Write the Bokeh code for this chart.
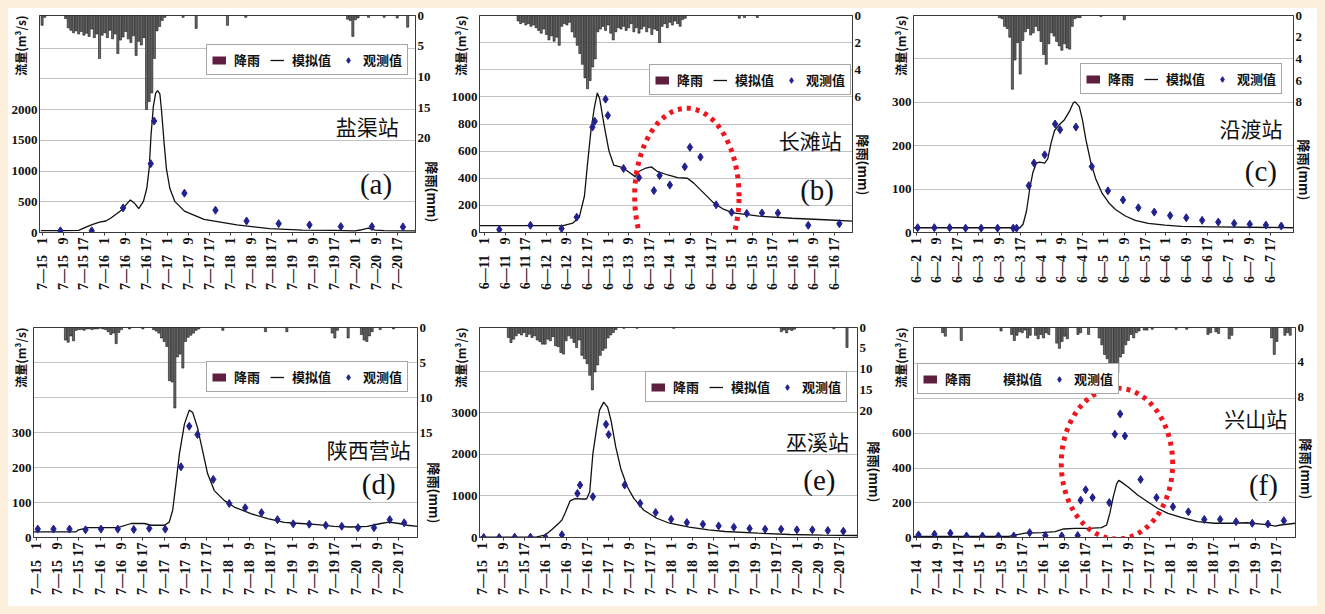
import math
from bokeh.plotting import figure
from bokeh.models import (Range1d, LinearAxis, FixedTicker, Label, Legend, LegendItem,
                          PolyAnnotation, CustomJSTickFormatter, Title)
from bokeh.layouts import row, column
from bokeh.embed import file_html
from bokeh.resources import INLINE

# ---------------- shared tick labels ----------------
tick_hours = [1, 9, 17, 25, 33, 41, 49, 57, 65, 73, 81, 89, 97, 105, 113, 121, 129, 137]
tick_clock = ["1", "9", "17"]
dates_a = ["7—15", "7—16", "7—17", "7—18", "7—19", "7—20"]
dates_b = ["6—11", "6—12", "6—13", "6—14", "6—15", "6—16"]
dates_c = ["6—2", "6—3", "6—4", "6—5", "6—6", "6—7"]
dates_d = ["7—15", "7—16", "7—17", "7—18", "7—19", "7—20"]
dates_e = ["7—15", "7—16", "7—17", "7—18", "7—19", "7—20"]
dates_f = ["7—14", "7—15", "7—16", "7—17", "7—18", "7—19"]

stations = ["盐渠站", "长滩站", "沿渡站", "陕西营站", "巫溪站", "兴山站"]
tags = ["(a)", "(b)", "(c)", "(d)", "(e)", "(f)"]
legend_labels = ["降雨", "模拟值", "观测值"]

# ---------------- (a) 盐渠站 ----------------
sim_a_h = [0.5, 8, 15, 18, 20.4, 23, 25.4, 27.5, 29.2, 31.7, 33.5, 34.8, 36.5, 38.0, 39.8, 41.1, 42.0,
           42.7, 43.6, 44.5, 45.2, 46.1, 46.7, 47.7, 48.6, 49.9, 51.8, 55.5, 63.0, 75.6, 88.1, 100.6,
           113.2, 120.7, 123.5, 126.0, 128.5, 132, 144]
sim_a_q = [30, 30, 35, 90, 133, 170, 187, 240, 293, 373, 470, 530, 470, 390, 507, 720, 1040,
           1573, 2053, 2267, 2309, 2256, 2000, 1467, 1040, 720, 507, 347, 213, 123, 64, 40,
           35, 27, 45, 70, 40, 30, 27]
obs_a_h = [8, 20, 32, 42.6, 43.9, 55.5, 67.4, 79.3, 91.6, 103.4, 115.4, 127.3, 139.2]
obs_a_q = [27, 27, 400, 1120, 1813, 640, 363, 187, 144, 123, 96, 96, 91]
rain_a_h = [1, 2] + list(range(10, 49)) + [55, 60, 72, 79, 118, 119, 120, 121, 122, 126, 132, 137, 141]
rain_a_mm = [1.6, 0.3,
             0.5, 2.0, 2.4, 2.8, 2.5, 3.0, 2.6, 3.2, 2.9, 3.4, 2.2, 3.6, 3.0, 7.0, 3.2, 2.8, 3.6, 2.4,
             3.8, 3.0, 6.2, 4.0, 3.5, 2.6, 3.8, 4.4, 3.3, 6.5, 4.2, 4.8, 3.6, 15.3, 14.0, 12.6, 7.0,
             2.5, 1.8, 0.8, 0.3,
             0.3, 2.1, 1.6, 0.3, 0.6, 0.8, 3.4, 0.7, 0.4, 0.3, 0.3, 0.4, 1.9]

# ---------------- (b) 长滩站 ----------------
sim_b_h = [-1, 31.5, 35.3, 37.8, 39.8, 41, 42.3, 43.6, 44.8, 45.7, 47.4, 49.3, 51.2, 54.4, 56.9, 59.5,
           60.7, 63.3, 65.8, 68.3, 72.2, 76, 79.8, 82.3, 86.1, 89.9, 93.8, 97.6, 107.7, 120.4, 133.1, 144]
sim_b_q = [50, 50, 70, 113, 269, 508, 748, 916, 1029, 988, 796, 604, 496, 480, 448, 412,
           448, 472, 484, 448, 424, 405, 400, 364, 292, 220, 172, 144, 120, 105, 94, 84]
obs_b_h = [6.7, 18.8, 30.9, 36.8, 42.9, 43.8, 48, 48.9, 55, 61, 66.8, 69, 73, 78.8, 80.8, 84.9, 91,
           97, 102.9, 108.8, 115, 126.8, 138.9]
obs_b_q = [22, 53, 29, 113, 777, 820, 983, 863, 472, 405, 309, 420, 350, 484, 628, 556, 204,
           149, 141, 144, 144, 53, 65]
rain_b_h = list(range(14, 80)) + [100, 102, 107]
rain_b_mm = [0.4, 0.6, 0.5, 0.7, 0.6, 0.8, 0.7, 0.9, 1.1, 1.3, 1.0, 1.4, 1.8, 1.5, 1.9, 1.6, 2.2,
             0.8, 0.6, 0.7, 0.5, 1.2, 1.6, 2.2, 2.8, 3.6, 4.6, 5.4, 4.8, 3.8, 3.2, 1.2, 1.0, 0.8,
             1.1, 0.7, 1.3, 1.8, 1.2, 0.9, 1.0, 0.8, 1.1, 0.9, 0.6, 1.2, 0.9, 1.3, 1.0, 0.8, 1.2,
             0.9, 1.4, 1.0, 1.1, 2.0, 0.8, 0.6, 0.9, 0.5, 0.7, 0.4, 0.6, 0.8, 0.3, 0.2,
             0.2, 0.15, 0.15]

# ---------------- (c) 沿渡站 ----------------
sim_c_h = [0, 40.9, 42.1, 43.4, 44.7, 45.9, 47.2, 48.5, 50.4, 51.6, 52.9, 54.2, 56.1, 58, 59.9,
           61.4, 62.1, 63.7, 64.9, 66.2, 68.1, 70, 72.5, 75.1, 77.6, 81.4, 85.2, 90.2, 96.6,
           102.9, 115.6, 146]
sim_c_q = [11, 11, 19, 49, 102, 139, 160, 162, 160, 170, 207, 235, 249, 260, 279,
           299, 301, 290, 260, 215, 162, 124, 90, 68, 53, 38, 28, 21, 17, 14, 13, 11]
obs_c_h = [1.6, 8, 13.9, 20, 26, 32.3, 38.3, 39.6, 44.3, 46.3, 50.4, 54.4, 56.3, 62.4, 68.5, 74.7,
           80.5, 86.4, 92.5, 98.6, 104.8, 110.9, 117.1, 123.2, 129.2, 135.4, 141.3]
obs_c_q = [11, 11, 11, 10, 10, 10, 10, 10, 108, 160, 179, 250, 237, 243, 152, 96,
           75, 57, 47, 39, 34, 28, 24, 21, 19, 17, 15]
rain_c_h = list(range(33, 65)) + [72, 81]
rain_c_mm = [0.2, 0.3, 1.0, 1.2, 2.0, 6.8, 4.1, 2.5, 5.4, 2.3, 1.5, 1.2, 1.8, 1.6, 1.0, 1.4,
             2.4, 3.6, 4.5, 2.6, 1.6, 1.9, 2.4, 2.8, 3.2, 2.6, 3.0, 3.1, 1.0, 0.3, 0.2, 0.2,
             0.1, 0.4]

# ---------------- (d) 陕西营站 ----------------
sim_d_h = [0, 16, 16.6, 20.4, 31.6, 36.6, 41.6, 44.1, 49.1, 50.9, 52.2, 53.4, 54.7, 56.6, 58.4,
           59.7, 61.5, 63.4, 65.3, 67.8, 71.5, 75.3, 81.5, 87.8, 94, 100.3, 106.5, 112.7, 119,
           125.2, 130.2, 133.3, 137.1, 140.2, 144]
sim_d_q = [16, 16, 21, 28, 28, 40, 40, 35, 35, 44, 78, 153, 238, 324, 364,
           357, 314, 248, 182, 134, 106, 87, 68, 54, 43, 40, 37, 32, 30,
           32, 40, 44, 40, 35, 32]
obs_d_h = [1.6, 7.5, 13.5, 19.5, 25.3, 31.6, 37.6, 43.4, 49.4, 55.3, 58.4, 61.5, 67.4, 73.4, 79.4,
           85.5, 91.5, 97.4, 103.4, 109.6, 115.6, 121.7, 127.7, 133.6, 139]
obs_d_q = [24, 24, 24, 22, 24, 24, 23, 26, 24, 202, 318, 294, 166, 97, 85,
           71, 51, 39, 38, 35, 32, 28, 28, 51, 42]
rain_d_h = list(range(12, 34)) + [36, 41] + list(range(45, 63)) + \
    [71, 87, 95, 112, 113, 114, 118, 123, 124, 125, 126, 127, 130, 135]
rain_d_mm = [1.8, 2.1, 1.2, 1.9, 0.4, 0.3, 0.3, 0.4, 0.2, 0.2, 0.3, 0.2, 0.2, 0.1, 0.2, 0.3, 0.6,
             1.0, 0.8, 2.3, 0.7, 0.3,
             0.2, 0.2,
             0.3, 0.5, 0.8, 1.5, 2.0, 2.7, 7.6, 7.8, 11.5, 4.2, 3.8, 5.8, 2.0, 1.4, 1.1, 0.8, 0.4, 0.2,
             0.4, 0.6, 0.6, 0.8, 1.5, 0.4, 1.5, 1.0, 1.8, 2.0, 1.2, 0.6, 0.3, 0.2]

# ---------------- (e) 巫溪站 ----------------
sim_e_h = [0, 21.5, 25.2, 27.7, 30.2, 31.4, 32.7, 34.5, 36.4, 38.9, 40.8, 42, 43.2, 44.5, 45.7,
           47.3, 48.8, 50.1, 51.9, 53.8, 56.3, 58.8, 62.5, 67.5, 72.4, 79.9, 87.3, 93.5, 106,
           118.4, 130.8, 144]
sim_e_q = [10, 10, 64, 200, 343, 420, 600, 880, 935, 926, 926, 1101, 2019, 2578, 3057,
           3256, 3136, 2817, 2179, 1660, 1221, 942, 662, 463, 343, 247, 184, 144, 104,
           72, 56, 48]
obs_e_h = [1.6, 7.5, 13.4, 19.4, 25.2, 31.4, 37.3, 38.3, 43.2, 48.2, 49.2, 55.3, 61.2, 67.1, 73.0,
           79.0, 85.1, 91.1, 96.9, 102.9, 108.8, 114.9, 120.9, 126.8, 132.7, 138.6]
obs_e_q = [0, 0, 8, 8, 0, 64, 1061, 1261, 982, 2721, 2474, 1261, 822, 599, 439,
           359, 319, 279, 247, 215, 200, 200, 184, 184, 168, 152]
rain_e_h = list(range(11, 53)) + [55, 60, 74, 115, 116, 117, 118, 119, 120, 135, 140]
rain_e_mm = [2.4, 3.6, 2.8, 2.0, 1.4, 1.8, 1.2, 2.2, 1.6, 2.4, 2.0, 3.0, 3.4, 4.0, 4.0, 2.8, 3.2,
             2.2, 4.4, 4.6, 6.0, 6.4, 3.2, 2.0, 2.6, 3.6, 4.8, 3.0, 6.7, 7.5, 8.7, 11.5, 15.0,
             10.7, 9.0, 6.7, 5.5, 5.0, 2.5, 1.8, 1.2, 0.5,
             0.2, 0.2, 0.2, 1.0, 0.6, 1.3, 0.5, 0.7, 0.4, 0.3, 4.8]

# ---------------- (f) 兴山站 ----------------
sim_f_h = [0, 36, 38.5, 42.2, 48.4, 53.4, 56.6, 60.9, 65.9, 70.9, 72.8, 74, 75.3, 76.6, 77.4, 78.4,
           80.9, 84.6, 88.4, 92.1, 95.9, 100.9, 107.1, 113.4, 119.6, 125.8, 132.1, 136.5, 138.3, 144]
sim_f_q = [6, 6, 15, 25, 28, 34, 49, 53, 53, 57, 72, 139, 234, 310, 329, 319,
           291, 243, 205, 167, 139, 116, 91, 82, 82, 85, 76, 66, 72, 82]
obs_f_h = [1.9, 7.9, 13.9, 20, 26, 32, 37.8, 43.8, 49.7, 55.9, 61.9, 63, 64.9, 67.5, 73.8, 75.9,
           77.9, 79.7, 85.6, 91.6, 97.8, 103.6, 109.6, 115.6, 121.6, 127.7, 133.6, 139.6]
obs_f_q = [15, 19, 25, 9, 9, 9, 9, 28, 11, 9, 11, 215, 275, 230, 201, 595,
           712, 585, 334, 230, 177, 148, 104, 104, 91, 82, 78, 97]
rain_f_h = [11, 12, 18, 33, 37, 38, 39, 40, 41, 42, 43, 44, 46, 47, 48, 49, 50, 51, 54, 55, 56, 57,
            58, 62, 63, 66, 70, 71, 72, 73, 74, 75, 76, 77, 78, 79, 80, 81, 82, 83, 84, 85, 87, 88,
            90, 99, 103, 111, 112, 114, 115, 119, 120, 135, 136, 137, 140, 141, 142]
rain_f_mm = [0.6, 1.0, 1.5, 0.4, 0.8, 1.5, 0.9, 0.5, 0.6, 0.3, 1.2, 0.9, 0.9, 1.3, 0.8, 1.2, 0.6,
             0.8, 1.8, 2.4, 1.6, 1.0, 1.3, 0.8, 0.6, 0.8, 1.2, 2.0, 3.1, 3.6, 4.5, 4.2, 6.2, 5.2,
             3.4, 3.0, 2.0, 1.5, 0.8, 1.2, 0.6, 0.4, 0.3, 0.3, 0.2, 0.2, 0.2, 0.8, 0.6, 0.5, 0.7,
             1.3, 0.9, 1.2, 3.1, 1.6, 0.9, 0.6, 0.9]

# ---------------- styling ----------------
TICK_FONT = "Liberation Serif"
CJK = "Noto Sans CJK SC"
BAR_FILL = "#6a6a6a"
BAR_LINE = "#111111"
LEG_BAR = "#5e1f41"
OBS_COL = "#22228c"
RED = "#f0161e"


def make_labels(dates):
    out = []
    for i, _ in enumerate(tick_hours):
        hr = tick_clock[i % 3]
        gap = "\u00a0\u00a0\u00a0" if len(hr) == 1 else "\u00a0"
        out.append(dates[i // 3] + gap + hr)
    return out


def style_axis(ax, tick_out=0):
    ax.axis_line_color = "#3a3a3a"
    ax.major_tick_line_color = "#3a3a3a"
    ax.minor_tick_line_color = None
    ax.major_tick_in = 0
    ax.major_tick_out = tick_out
    ax.major_label_text_font = TICK_FONT
    ax.major_label_text_font_style = "bold"
    ax.major_label_text_font_size = "13px"
    ax.major_label_text_color = "#111111"
    ax.major_label_standoff = 2


def panel(cfg):
    W, H, L, R, T, B = cfg["geom"]
    x0, x1 = cfg["xr"]
    ymax = cfg["ymax"]
    p = figure(width=W, height=H, x_range=Range1d(x0, x1), y_range=Range1d(0, ymax),
               output_backend="svg", toolbar_location=None,
               min_border_left=L, min_border_right=R, min_border_top=T, min_border_bottom=B,
               background_fill_color="white", border_fill_color="white",
               outline_line_color="#3a3a3a", outline_line_width=1)
    p.extra_y_ranges = {"rain": Range1d(ymax / cfg["k"], 0)}
    p.xgrid.visible = False
    p.ygrid.ticker = FixedTicker(ticks=cfg["grid"])
    p.ygrid.grid_line_color = "#c2c2c2"
    p.ygrid.grid_line_width = 1

    # rainfall bars hanging from the top (inverted right axis)
    p.vbar(x=cfg["rain_h"], top=0, bottom=cfg["rain_mm"], width=0.8, y_range_name="rain",
           fill_color=BAR_FILL, line_color=BAR_LINE, line_width=0.6)
    sim = p.line(cfg["sim_h"], cfg["sim_q"], line_color="#111111", line_width=1.3)
    obs = p.scatter(cfg["obs_h"], cfg["obs_q"], marker="diamond", size=8,
                    fill_color=OBS_COL, line_color=OBS_COL)

    # legend proxies
    bar_proxy = p.line([x0 - 50, x0 - 40], [-100, -100], line_color=LEG_BAR, line_width=8)
    if cfg.get("line_glyph", True):
        line_proxy = sim
    else:
        line_proxy = p.line([x0 - 50, x0 - 40], [-100, -100], line_alpha=0)
    leg = Legend(items=[LegendItem(label=legend_labels[0], renderers=[bar_proxy]),
                        LegendItem(label=legend_labels[1], renderers=[line_proxy]),
                        LegendItem(label=legend_labels[2], renderers=[obs])],
                 location=cfg["leg"], orientation="horizontal",
                 label_text_font=CJK, label_text_font_style="bold", label_text_font_size="13px",
                 label_text_color="#111111",
                 glyph_width=14, glyph_height=16, label_standoff=8, spacing=10,
                 padding=5, margin=0, border_line_color="#4d4d4d", border_line_width=1.5,
                 background_fill_color="white", background_fill_alpha=1)
    p.add_layout(leg)

    # axes
    yl = p.yaxis[0]
    yl.ticker = FixedTicker(ticks=cfg["lticks"])
    style_axis(yl)
    yr = LinearAxis(y_range_name="rain", ticker=FixedTicker(ticks=cfg["rticks"]))
    style_axis(yr)
    p.add_layout(yr, "right")
    xa = p.xaxis[0]
    xa.ticker = FixedTicker(ticks=tick_hours)
    xa.formatter = CustomJSTickFormatter(
        args=dict(tick_list=tick_hours, label_list=make_labels(cfg["dates"])),
        code="const i = tick_list.indexOf(tick); return i >= 0 ? label_list[i] : '';")
    style_axis(xa, tick_out=3)
    xa.major_label_text_font_size = "14px"
    xa.major_label_orientation = math.pi / 2

    def fx(f):
        return x0 + f * (x1 - x0)

    # station name and panel tag
    p.add_layout(Label(x=fx(cfg["name"][0]), y=cfg["name"][1] * ymax, text=cfg["station"],
                       text_font=CJK, text_font_size="21px", text_color="#111111",
                       text_align="center", text_baseline="middle"))
    p.add_layout(Label(x=fx(cfg["tag"][0]), y=cfg["tag"][1] * ymax, text=cfg["tagtext"],
                       text_font="Liberation Serif", text_font_size="29px", text_color="#111111",
                       text_align="center", text_baseline="middle"))
    # axis titles: side titles with a negative standoff so they take no border space
    p.add_layout(Title(text="\n流量(m³/s)", align="right", vertical_align="bottom",
                       standoff=-40, offset=0, text_font=CJK, text_font_style="bold",
                       text_font_size="12px", text_color="#111111"), "left")
    p.add_layout(Title(text="降雨(mm)", align="right", vertical_align="bottom",
                       standoff=-21, offset=cfg["roff"], text_font=CJK, text_font_style="bold",
                       text_font_size="13px", text_color="#111111"), "right")
    if "ell" in cfg:
        cx, cy, rx, ry = cfg["ell"]
        n = 90
        xs = [cx + rx * math.cos(2 * math.pi * i / n) for i in range(n)]
        ys = [cy + ry * math.sin(2 * math.pi * i / n) for i in range(n)]
        p.add_layout(PolyAnnotation(xs=xs, ys=ys, fill_alpha=0, line_color=RED, line_alpha=1,
                                    line_width=5, line_dash="4 5"), "below")
    return p


cfgs = [
    dict(sim_h=sim_a_h, sim_q=sim_a_q, obs_h=obs_a_h, obs_q=obs_a_q, rain_h=rain_a_h, rain_mm=rain_a_mm,
         dates=dates_a, station=stations[0], tagtext=tags[0], xr=(0, 144), ymax=3530, k=100,
         lticks=[0, 500, 1000, 1500, 2000], rticks=[0, 5, 10, 15, 20],
         grid=[500, 1000, 1500, 2000, 2500, 3000], geom=(440, 302, 25, 33, 4, 78),
         leg=(167, 157), name=(0.872, 0.49), tag=(0.895, 0.223), roff=10),
    dict(sim_h=sim_b_h, sim_q=sim_b_q, obs_h=obs_b_h, obs_q=obs_b_q, rain_h=rain_b_h, rain_mm=rain_b_mm,
         dates=dates_b, station=stations[1], tagtext=tags[1], xr=(-1, 144), ymax=1600, k=100,
         lticks=[0, 200, 400, 600, 800, 1000], rticks=[0, 2, 4, 6],
         grid=[200, 400, 600, 800, 1000, 1200, 1400], geom=(440, 302, 24, 36, 7, 73),
         leg=(170, 137), name=(0.887, 0.428), tag=(0.905, 0.194), roff=37,
         ell=(79.6, 267, 20.3, 649)),
    dict(sim_h=sim_c_h, sim_q=sim_c_q, obs_h=obs_c_h, obs_q=obs_c_q, rain_h=rain_c_h, rain_mm=rain_c_mm,
         dates=dates_c, station=stations[2], tagtext=tags[2], xr=(0, 146), ymax=500, k=25,
         lticks=[0, 100, 200, 300], rticks=[0, 2, 4, 6, 8],
         grid=[100, 200, 300, 400], geom=(429, 302, 22, 24, 6, 75),
         leg=(167, 138), name=(0.888, 0.48), tag=(0.914, 0.285), roff=32),
    dict(sim_h=sim_d_h, sim_q=sim_d_q, obs_h=obs_d_h, obs_q=obs_d_q, rain_h=rain_d_h, rain_mm=rain_d_mm,
         dates=dates_d, station=stations[3], tagtext=tags[3], xr=(0, 144), ymax=600, k=20,
         lticks=[0, 100, 200, 300], rticks=[0, 5, 10, 15],
         grid=[100, 200, 300, 400, 500], geom=(440, 296, 24, 31, 15, 69),
         leg=(173, 145), name=(0.873, 0.42), tag=(0.899, 0.255), roff=14),
    dict(sim_h=sim_e_h, sim_q=sim_e_q, obs_h=obs_e_h, obs_q=obs_e_q, rain_h=rain_e_h, rain_mm=rain_e_mm,
         dates=dates_e, station=stations[4], tagtext=tags[4], xr=(0, 144), ymax=5050, k=100,
         lticks=[0, 1000, 2000, 3000], rticks=[0, 5, 10, 15, 20],
         grid=[1000, 2000, 3000, 4000], geom=(440, 296, 24, 31, 17, 68),
         leg=(166, 135), name=(0.894, 0.46), tag=(0.899, 0.275), roff=35),
    dict(sim_h=sim_f_h, sim_q=sim_f_q, obs_h=obs_f_h, obs_q=obs_f_q, rain_h=rain_f_h, rain_mm=rain_f_mm,
         dates=dates_f, station=stations[5], tagtext=tags[5], xr=(0, 144), ymax=1210, k=50,
         lticks=[0, 200, 400, 600], rticks=[0, 4, 8],
         grid=[200, 400, 600, 800, 1000], geom=(429, 296, 24, 22, 15, 68),
         leg=(4, 143), name=(0.896, 0.568), tag=(0.916, 0.249), roff=38,
         ell=(76.7, 426, 21, 435), line_glyph=False),
]

plots = [panel(c) for c in cfgs]
white = {"background-color": "white"}
layout = column(row(plots[0], plots[1], plots[2], styles=white),
                row(plots[3], plots[4], plots[5], styles=white), styles=white)

html = file_html(layout, INLINE, title="流量过程模拟")
html = html.replace("</head>",
                    "<style>html{background:#fcefdc;} body{margin:8px !important; "
                    "background:#fcefdc !important;}</style></head>", 1)
open("out.html", "w").write(html)
